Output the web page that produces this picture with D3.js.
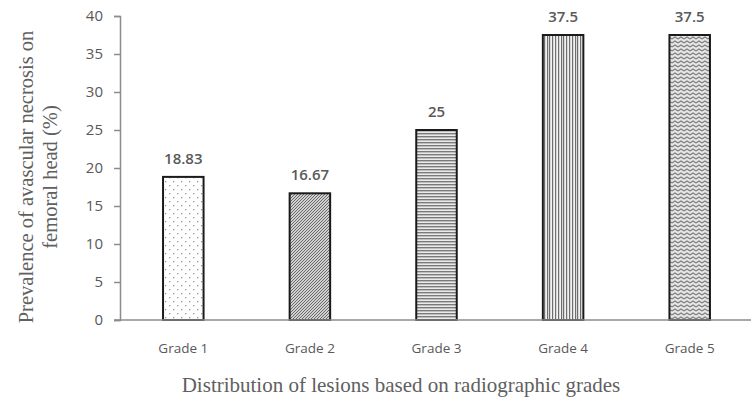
<!DOCTYPE html>
<html>
<head>
<meta charset="utf-8">
<script src="https://cdn.jsdelivr.net/npm/d3@7"></script>
<style>
  body { margin: 0; background: #fff; }
  #chart svg { display: block; }
</style>
</head>
<body>
<div id="chart"></div>
<script>
// data
const grades = ["Grade 1", "Grade 2", "Grade 3", "Grade 4", "Grade 5"];
const prevalence = [18.83, 16.67, 25, 37.5, 37.5];
const valueLabels = ["18.83", "16.67", "25", "37.5", "37.5"];
const yTicks = [0, 5, 10, 15, 20, 25, 30, 35, 40];
const patternIds = ["dots", "diag", "horiz", "vert", "wave"];

function drawChart() {
    let dimensions = {
        width: 751,
        height: 404,
        margin: { top: 16, right: 0, bottom: 84, left: 120 },
    }
    dimensions.boundedHeight = dimensions.height - dimensions.margin.top - dimensions.margin.bottom;

    const labelColor = "#595959";
    const axisColor = "#8c8c8c";

    //SCALES
    const xScale = d3.scaleBand()
        .domain(grades)
        .range([dimensions.margin.left, 753])
        .paddingInner(0.68)
        .paddingOuter(0.34);

    const yScale = d3.scaleLinear()
        .domain([0, 40])
        .range([dimensions.margin.top + dimensions.boundedHeight, dimensions.margin.top]);

    const wrapper = d3.select("#chart").append("svg")
        .attr("width", dimensions.width)
        .attr("height", dimensions.height)

    //PATTERNS
    const defs = wrapper.append("defs");

    const dots = defs.append("pattern").attr("id", "dots")
        .attr("patternUnits", "userSpaceOnUse").attr("width", 8).attr("height", 8);
    dots.append("rect").attr("width", 8).attr("height", 8).attr("fill", "#fff");
    dots.append("rect").attr("x", 1).attr("y", 1).attr("width", 1.3).attr("height", 1.3).attr("fill", "#999");
    dots.append("rect").attr("x", 5).attr("y", 5).attr("width", 1.3).attr("height", 1.3).attr("fill", "#999");

    const diag = defs.append("pattern").attr("id", "diag")
        .attr("patternUnits", "userSpaceOnUse").attr("width", 3).attr("height", 3);
    diag.append("rect").attr("width", 3).attr("height", 3).attr("fill", "#d0d0d0");
    diag.append("path").attr("d", "M-1,1 L1,-1 M0,3 L3,0 M2,4 L4,2")
        .attr("stroke", "#6a6a6a").attr("stroke-width", 1);

    const horiz = defs.append("pattern").attr("id", "horiz")
        .attr("patternUnits", "userSpaceOnUse").attr("width", 4).attr("height", 3);
    horiz.append("rect").attr("width", 4).attr("height", 3).attr("fill", "#eaeaea");
    horiz.append("rect").attr("y", 1).attr("width", 4).attr("height", 1.4).attr("fill", "#7a7a7a");

    const vert = defs.append("pattern").attr("id", "vert")
        .attr("patternUnits", "userSpaceOnUse").attr("width", 14).attr("height", 4)
        .attr("x", 543);
    vert.append("rect").attr("width", 14).attr("height", 4).attr("fill", "#f2f2f2");
    [1, 4, 6, 9, 12].forEach(x => {
        vert.append("rect").attr("x", x).attr("width", 1.2).attr("height", 4).attr("fill", "#6e6e6e");
    });

    const wave = defs.append("pattern").attr("id", "wave")
        .attr("patternUnits", "userSpaceOnUse").attr("width", 6).attr("height", 4);
    wave.append("rect").attr("width", 6).attr("height", 4).attr("fill", "#e6e6e6");
    wave.append("path").attr("d", "M0,3 L3,1 L6,3")
        .attr("fill", "none").attr("stroke", "#7d7d7d").attr("stroke-width", 1.1);

    //AXES
    const yAxis = d3.axisLeft(yScale)
        .tickValues(yTicks)
        .tickSize(6)
        .tickPadding(11);

    const yAxisG = wrapper.append("g")
        .attr("transform", `translate(${dimensions.margin.left}, 0)`)
        .call(yAxis);
    yAxisG.select(".domain").attr("stroke", axisColor).attr("stroke-width", 1.5);
    yAxisG.selectAll(".tick line").attr("stroke", axisColor).attr("stroke-width", 1.5);
    yAxisG.selectAll(".tick text")
        .attr("fill", labelColor)
        .style("font-family", "'Open Sans', sans-serif")
        .style("font-size", "15px");

    const xAxis = d3.axisBottom(xScale)
        .tickSize(0)
        .tickPadding(23);

    const xAxisG = wrapper.append("g")
        .attr("transform", `translate(0, ${yScale(0)})`)
        .call(xAxis);
    xAxisG.select(".domain").attr("stroke", "none");
    xAxisG.selectAll(".tick text")
        .attr("fill", labelColor)
        .style("font-family", "'Open Sans', sans-serif")
        .style("font-size", "13.5px");

    //BARS
    wrapper.append("g")
        .selectAll("rect")
        .data(prevalence)
        .enter()
        .append("rect")
        .attr("x", (d, i) => xScale(grades[i]))
        .attr("y", d => yScale(d))
        .attr("width", xScale.bandwidth())
        .attr("height", d => yScale(0) - yScale(d))
        .attr("fill", (d, i) => `url(#${patternIds[i]})`)
        .attr("stroke", "#1a1a1a")
        .attr("stroke-width", 2);

    // x baseline drawn over the bars
    wrapper.append("line")
        .attr("x1", dimensions.margin.left - 6)
        .attr("x2", dimensions.width)
        .attr("y1", yScale(0))
        .attr("y2", yScale(0))
        .attr("stroke", axisColor)
        .attr("stroke-width", 1.5);

    //VALUE LABELS
    wrapper.append("g")
        .selectAll("text")
        .data(prevalence)
        .enter()
        .append("text")
        .attr("x", (d, i) => xScale(grades[i]) + xScale.bandwidth() / 2)
        .attr("y", d => yScale(d) - 13)
        .attr("text-anchor", "middle")
        .attr("fill", labelColor)
        .style("font-family", "'Open Sans', sans-serif")
        .style("font-size", "15px")
        .style("font-weight", 600)
        .text((d, i) => valueLabels[i]);

    //AXIS TITLES
    const yTitle = wrapper.append("text")
        .attr("transform", `translate(0, 177) rotate(-90)`)
        .attr("text-anchor", "middle")
        .attr("fill", "#606060")
        .style("font-family", "'Liberation Serif', serif")
        .style("font-size", "20.5px");
    yTitle.append("tspan").attr("x", 0).attr("y", 33)
        .text("Prevalence of avascular necrosis on");
    yTitle.append("tspan").attr("x", 0).attr("y", 57)
        .text("femoral head (%)");

    wrapper.append("text")
        .attr("x", 401)
        .attr("y", 392)
        .attr("text-anchor", "middle")
        .attr("fill", "#606060")
        .style("font-family", "'Liberation Serif', serif")
        .style("font-size", "21px")
        .text("Distribution of lesions based on radiographic grades");
}

drawChart();
</script>
</body>
</html>
